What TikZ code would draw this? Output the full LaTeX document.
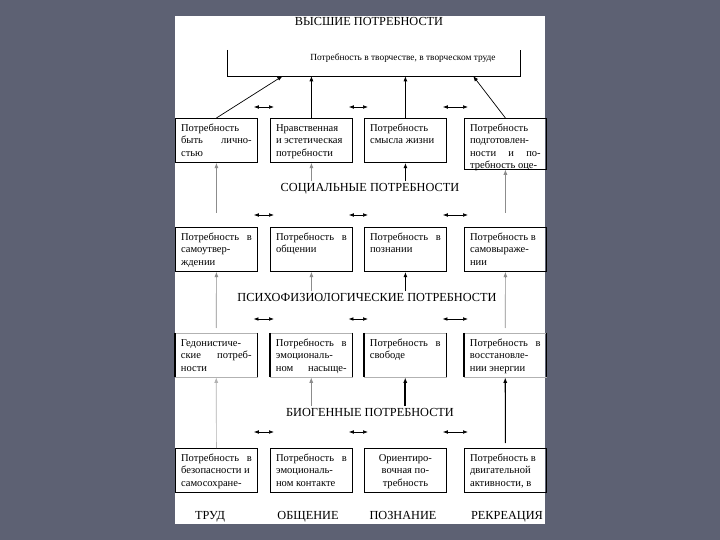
\documentclass[tikz,border=0pt]{standalone}
\usepackage{fontspec}
\setmainfont{Liberation Serif}
\usepackage{tikz}
\usetikzlibrary{arrows.meta,calc}
\definecolor{slate}{RGB}{93,97,115}
\newcommand{\needtext}[2][1.08cm]{\parbox[c][#1][t]{2.12cm}{\strut#2}}

\begin{document}
\begin{tikzpicture}[x=.03cm,y=-.03cm,
  needbox/.style={draw=black,line width=.7pt,inner xsep=.17cm,inner ysep=.12cm,anchor=north west,font=\fontsize{9}{10.7}\selectfont},
  dimbox/.style={needbox,draw=black!30,line width=.4pt},
  level/.style={font=\fontsize{10.5}{12}\selectfont,inner sep=1pt,text height=7.5pt,text depth=2pt},
  frame/.style={draw=black,line width=.8pt},
  edge/.style={draw=black,line width=1pt},
  arrow/.style={-{Latex[length=1.6mm,width=1.2mm]},draw=black,line width=.6pt},
  greyarrow/.style={arrow,draw=black!45},
  mainarrow/.style={arrow,line width=1.3pt},
  dblarrow/.style={{Latex[length=1.5mm,width=1.1mm]}-{Latex[length=1.5mm,width=1.1mm]},draw=black,line width=.6pt,shorten <=-.12cm,shorten >=-.12cm}
]
\fill[slate] (0,0) rectangle (720,540);
\fill[white] (175,16) rectangle (545,524);

% higher needs
\node[level] (high) at (369,22) {ВЫСШИЕ ПОТРЕБНОСТИ};
\coordinate (crtL) at (227,50);
\coordinate (crtR) at (520,76);
\draw[frame] (crtL) |- (crtR) -- (crtR |- crtL);
\node[font=\fontsize{8}{9}\selectfont] (crt) at (403,58) {Потребность в творчестве, в творческом труде};

\node[needbox] (r1c1) at (175,118) {\needtext{Потребность\\быть\hfill лично-\\стью}};
\node[needbox] (r1c2) at (270,118) {\needtext{Нравственная\\и эстетическая\\потребности}};
\node[needbox] (r1c3) at (364,118) {\needtext{Потребность\\смысла жизни}};
\node[needbox] (r1c4) at (464,118) {\needtext[1.28cm]{Потребность\\подготовлен-\\ности\hfill и\hfill по-\\требность оце-}};

\draw[arrow] (r1c1.north) -- ($(crtL |- crtR)!.19!(crtR)$);
\draw[arrow] (r1c2.north) -- (r1c2.north |- crtR);
\draw[mainarrow] (r1c3.north) -- (r1c3.north |- crtR);
\draw[arrow] (r1c4.north) -- ($(crtL |- crtR)!.84!(crtR)$);
\draw[dblarrow] ([yshift=.33cm]r1c1.north east) -- ([yshift=.33cm]r1c2.north west);
\draw[dblarrow] ([yshift=.33cm]r1c2.north east) -- ([yshift=.33cm]r1c3.north west);
\draw[dblarrow] ([yshift=.33cm]r1c3.north east) -- ([yshift=.33cm]r1c4.north west);

% social needs
\node[level] (soc) at (370,188) {СОЦИАЛЬНЫЕ ПОТРЕБНОСТИ};
\node[needbox] (r2c1) at (175,227) {\needtext{Потребность\hfill в\\самоутвер-\\ждении}};
\node[needbox] (r2c2) at (270,227) {\needtext{Потребность\hfill в\\общении}};
\node[needbox] (r2c3) at (364,227) {\needtext{Потребность\hfill в\\познании}};
\node[needbox] (r2c4) at (464,227) {\needtext{Потребность в\\самовыраже-\\нии}};

\draw[greyarrow,shorten <=.42cm] (r2c1.north) -- (r1c1.south);
\draw[greyarrow] (soc.north -| r1c2.south) -- (r1c2.south);
\draw[mainarrow] (soc.north -| r1c3.south) -- (r1c3.south);
\draw[greyarrow,shorten <=.42cm] (r2c4.north) -- (r1c4.south);
\draw[dblarrow] ([yshift=.36cm]r2c1.north east) -- ([yshift=.36cm]r2c2.north west);
\draw[dblarrow] ([yshift=.36cm]r2c2.north east) -- ([yshift=.36cm]r2c3.north west);
\draw[dblarrow] ([yshift=.36cm]r2c3.north east) -- ([yshift=.36cm]r2c4.north west);

% psychophysiological needs
\node[level] (psy) at (367,298) {ПСИХОФИЗИОЛОГИЧЕСКИЕ ПОТРЕБНОСТИ};
\node[dimbox] (r3c1) at (175,333) {\needtext{Гедонистиче-\\ские\hfill потреб-\\ности}};
\node[dimbox] (r3c2) at (270,333) {\needtext{Потребность\hfill в\\эмоциональ-\\ном\hfill насыще-}};
\node[dimbox] (r3c3) at (364,333) {\needtext{Потребность\hfill в\\свободе}};
\node[dimbox] (r3c4) at (464,333) {\needtext{Потребность\hfill в\\восстановле-\\нии энергии}};
\draw[edge] (r3c1.north west) -- (r3c1.south west) (r3c1.north east) -- (r3c1.south east);
\draw[edge] (r3c2.north west) -- (r3c2.south west) (r3c2.north east) -- (r3c2.south east);
\draw[edge] (r3c3.north west) -- (r3c3.south west) (r3c3.north east) -- (r3c3.south east);
\draw[edge] (r3c4.north west) -- (r3c4.south west) (r3c4.north east) -- (r3c4.south east);

\draw[greyarrow,shorten <=.15cm] (r3c1.north) -- (r2c1.south);
\draw[greyarrow] (psy.north -| r2c2.south) -- (r2c2.south);
\draw[mainarrow] (psy.north -| r2c3.south) -- (r2c3.south);
\draw[greyarrow,shorten <=.15cm] (r3c4.north) -- (r2c4.south);
\draw[dblarrow] ([yshift=.42cm]r3c1.north east) -- ([yshift=.42cm]r3c2.north west);
\draw[dblarrow] ([yshift=.42cm]r3c2.north east) -- ([yshift=.42cm]r3c3.north west);
\draw[dblarrow] ([yshift=.42cm]r3c3.north east) -- ([yshift=.42cm]r3c4.north west);

% biogenic needs
\node[level] (bio) at (370,413) {БИОГЕННЫЕ ПОТРЕБНОСТИ};
\node[needbox] (r4c1) at (175,448) {\needtext{Потребность\hfill в\\безопасности и\\самосохране-}};
\node[needbox] (r4c2) at (270,448) {\needtext{Потребность\hfill в\\эмоциональ-\\ном контакте}};
\node[needbox] (r4c3) at (364,448) {\needtext{\centering Ориентиро-\\вочная по-\\требность}};
\node[needbox] (r4c4) at (464,448) {\needtext{Потребность в\\двигательной\\активности, в}};

\draw[arrow,draw=black!30] (r4c1.north) -- (r3c1.south);
\draw[greyarrow] (bio.north -| r3c2.south) -- (r3c2.south);
\draw[mainarrow] (bio.north -| r3c3.south) -- (r3c3.south);
\draw[arrow,line width=.9pt,shorten <=.15cm] (r4c4.north) -- (r3c4.south);
\draw[dblarrow] ([yshift=.48cm]r4c1.north east) -- ([yshift=.48cm]r4c2.north west);
\draw[dblarrow] ([yshift=.48cm]r4c2.north east) -- ([yshift=.48cm]r4c3.north west);
\draw[dblarrow] ([yshift=.48cm]r4c3.north east) -- ([yshift=.48cm]r4c4.north west);

% spheres of activity
\node[level] (trud) at (210,516) {ТРУД};
\node[level] (obsh) at (308,516) {ОБЩЕНИЕ};
\node[level] (pozn) at (403,516) {ПОЗНАНИЕ};
\node[level] (rekr) at (507,516) {РЕКРЕАЦИЯ};
\end{tikzpicture}
\end{document}
